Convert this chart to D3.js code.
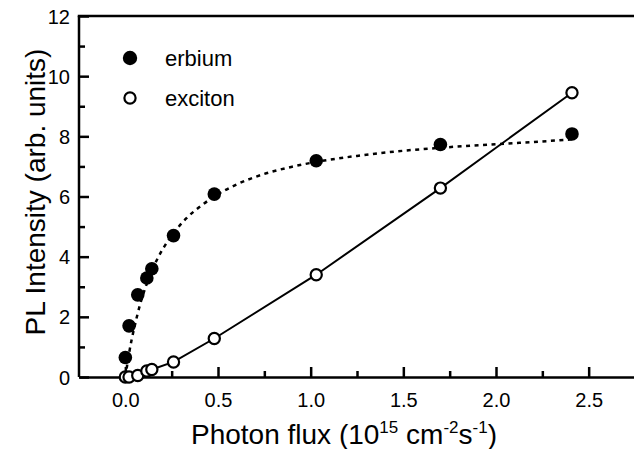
<!DOCTYPE html>
<html><head><meta charset="utf-8">
<script src="https://cdn.jsdelivr.net/npm/d3@7"></script>
<style>
html,body{margin:0;padding:0;background:#fff;}
svg{display:block;font-family:"Liberation Sans",Arial,Helvetica,sans-serif;}
</style></head>
<body><svg id="c" width="634" height="449"></svg>
<script>
// Data
const fluxX = [0.0, 0.02, 0.067, 0.116, 0.143, 0.26, 0.48, 1.03, 1.70, 2.41];
const erbiumY = [0.65, 1.70, 2.73, 3.29, 3.60, 4.70, 6.08, 7.19, 7.73, 8.08];
const excitonY = [0.0, 0.0, 0.05, 0.20, 0.25, 0.50, 1.28, 3.40, 6.28, 9.45];
// dotted fit curve for erbium
const erbiumFitX = [0, 0.01, 0.02, 0.035, 0.05, 0.065, 0.08, 0.1, 0.13, 0.17, 0.2, 0.26, 0.33, 0.4, 0.48, 0.6, 0.75, 0.9, 1.03, 1.25, 1.5, 1.7, 2.0, 2.25, 2.41];
const erbiumFitY = [0, 0.4, 0.78, 1.27, 1.68, 2.07, 2.42, 2.82, 3.33, 3.89, 4.23, 4.78, 5.28, 5.65, 6.0, 6.4, 6.75, 6.99, 7.15, 7.35, 7.52, 7.62, 7.74, 7.83, 7.9];
const xTicks = [0.0, 0.5, 1.0, 1.5, 2.0, 2.5];
const xMinorTicks = [0.25, 0.75, 1.25, 1.75, 2.25];
const yTicks = [0, 2, 4, 6, 8, 10, 12];
const yMinorTicks = [1, 3, 5, 7, 9, 11];
const legendLabels = ["erbium", "exciton"];

const svg = d3.select("#c");
const x = d3.scaleLinear().domain([-0.25, 2.75]).range([79, 635]);
const y = d3.scaleLinear().domain([0, 12]).range([377, 16]);

// minor ticks
svg.append("g").attr("transform", `translate(0,${y(0)})`)
  .call(d3.axisBottom(x).tickValues(xMinorTicks).tickSize(-6).tickFormat(""))
  .call(g => g.select(".domain").remove());
svg.append("g").attr("transform", `translate(${x(-0.25)},0)`)
  .call(d3.axisLeft(y).tickValues(yMinorTicks).tickSize(-6).tickFormat(""))
  .call(g => g.select(".domain").remove());

// major axes
const xa = svg.append("g").attr("transform", `translate(0,${y(0)})`)
  .call(d3.axisBottom(x).tickValues(xTicks).tickSize(-10).tickSizeOuter(0).tickPadding(16).tickFormat(d3.format(".1f")));
const ya = svg.append("g").attr("transform", `translate(${x(-0.25)},0)`)
  .call(d3.axisLeft(y).tickValues(yTicks).tickSize(-10).tickSizeOuter(0).tickPadding(9).tickFormat(d3.format("d")));
svg.selectAll(".tick line").attr("stroke", "#000").attr("stroke-width", 2.5);
svg.selectAll(".domain").attr("stroke", "#000").attr("stroke-width", 2.5);
svg.selectAll(".tick text").attr("font-size", 20).attr("fill", "#000")
  .attr("font-family", "Liberation Sans, Arial, sans-serif");
ya.selectAll(".tick text").attr("dy", "0.35em");
// top frame line
svg.append("line").attr("x1", x(-0.25) - 1.25).attr("x2", 634).attr("y1", y(12)).attr("y2", y(12))
  .attr("stroke", "#000").attr("stroke-width", 2.5);
ya.select(".domain").attr("d", `M0,${y(12)}V${y(0)}`);

// lines
svg.append("path")
  .datum(erbiumFitX.map((d, i) => [d, erbiumFitY[i]]))
  .attr("fill", "none").attr("stroke", "#000").attr("stroke-width", 2.5)
  .attr("stroke-dasharray", "4,4.5")
  .attr("d", d3.line().x(d => x(d[0])).y(d => y(d[1])).curve(d3.curveMonotoneX));
svg.append("path")
  .datum(fluxX.map((d, i) => [d, excitonY[i]]))
  .attr("fill", "none").attr("stroke", "#000").attr("stroke-width", 2)
  .attr("d", d3.line().x(d => x(d[0])).y(d => y(d[1])));

// markers
svg.append("g").selectAll("circle").data(fluxX.map((d, i) => [d, erbiumY[i]])).join("circle")
  .attr("cx", d => x(d[0])).attr("cy", d => y(d[1])).attr("r", 6.8).attr("fill", "#000");
svg.append("g").selectAll("circle").data(fluxX.map((d, i) => [d, excitonY[i]])).join("circle")
  .attr("cx", d => x(d[0])).attr("cy", d => y(d[1])).attr("r", 5.6)
  .attr("fill", "#fff").attr("stroke", "#000").attr("stroke-width", 2.2);

// legend
const leg = svg.append("g");
leg.append("circle").attr("cx", 130).attr("cy", 58).attr("r", 7.2).attr("fill", "#000");
leg.append("circle").attr("cx", 130).attr("cy", 98).attr("r", 5.6).attr("fill", "#fff").attr("stroke", "#000").attr("stroke-width", 2.2);
leg.selectAll("text").data(legendLabels).join("text")
  .attr("x", 165).attr("y", (d, i) => 66 + i * 40)
  .attr("font-size", 22).attr("fill", "#000").text(d => d);

// axis titles
const xt = svg.append("text").attr("x", 344).attr("y", 444).attr("text-anchor", "middle")
  .attr("font-size", 28).attr("fill", "#000");
xt.append("tspan").text("Photon flux (10");
xt.append("tspan").attr("font-size", 17).attr("dy", -11).text("15");
xt.append("tspan").attr("dy", 11).text(" cm");
xt.append("tspan").attr("font-size", 17).attr("dy", -11).text("-2");
xt.append("tspan").attr("dy", 11).text("s");
xt.append("tspan").attr("font-size", 17).attr("dy", -11).text("-1");
xt.append("tspan").attr("dy", 11).text(")");

svg.append("text").attr("transform", "translate(45,192) rotate(-90)")
  .attr("text-anchor", "middle").attr("font-size", 28).attr("fill", "#000")
  .text("PL Intensity (arb. units)");
</script></body></html>
